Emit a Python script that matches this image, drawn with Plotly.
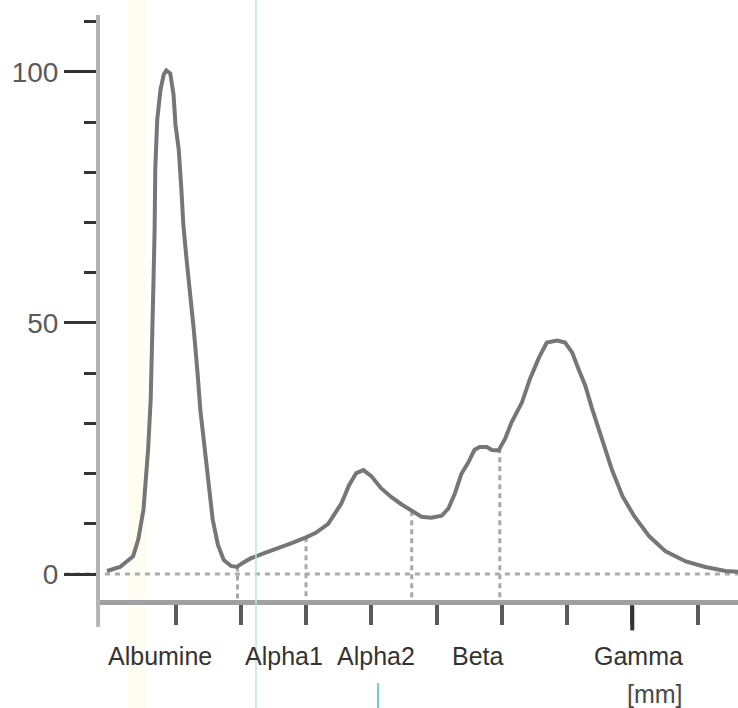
import numpy as np
import plotly.graph_objects as go

# Densitometry scan: migration distance (mm) vs relative intensity (%)
mm = [-0.5, 1.5, 3.5, 4.3, 5.1, 5.5, 5.8, 6.2, 6.5, 6.6, 6.8, 6.9, 7.2, 7.7, 8.2, 8.6,
      9.2, 9.7, 10.0, 10.5, 10.9, 11.2, 11.7, 12.2, 12.8, 13.4, 13.8, 14.5, 15.1, 15.7,
      16.5, 17.4, 18.5, 19.4, 20.3, 21.5, 23.5, 26.2, 27.7, 30.0, 31.5, 33.4, 34.6, 35.4,
      36.6, 37.7, 38.8, 40.0, 41.5, 43.1, 44.6, 46.2, 47.7, 49.2, 50.8, 51.8, 52.8, 53.8,
      54.9, 55.8, 56.6, 57.7, 58.5, 59.5, 60.5, 61.5, 63.1, 64.3, 65.7, 66.9, 68.5, 69.7,
      70.8, 71.8, 72.8, 73.8, 75.4, 76.9, 78.5, 80.3, 82.6, 85.1, 88.2, 91.2, 94.3, 96.5]
pct = [0.6, 1.4, 3.5, 6.9, 12.9, 18.8, 24.8, 34.8, 46.7, 56.7, 68.6, 80.6, 90.5, 96.5, 99.5, 100.3,
       99.7, 95.5, 89.5, 84.5, 76.6, 69.6, 62.6, 56.7, 48.7, 39.7, 32.7, 24.7, 16.8, 10.8,
       5.8, 2.8, 1.6, 1.4, 2.2, 3.1, 4.1, 5.3, 6.1, 7.3, 8.2, 10.0, 12.2, 14.0,
       17.7, 20.1, 20.7, 19.5, 17.1, 15.3, 13.9, 12.5, 11.4, 11.2, 11.6, 13.0, 16.0, 19.9,
       22.3, 24.7, 25.3, 25.3, 24.7, 24.6, 26.9, 30.2, 34.2, 38.8, 43.1, 46.1, 46.5, 46.1,
       44.1, 40.7, 37.5, 33.1, 26.7, 20.7, 15.5, 11.5, 7.5, 4.5, 2.5, 1.4, 0.6, 0.4]

tick_mm = [10, 20, 30, 40, 50, 60, 70, 80, 90]
fraction_bounds = [19.5, 30.0, 46.2, 59.7]
fraction_names = ["Albumine", "Alpha1", "Alpha2", "Beta", "Gamma"]
fraction_label_mm = [7.7, 26.6, 40.8, 56.3, 81.0]
y_ticks = [0, 50, 100]
unit_label = "[mm]"
unit_label_mm = 83.5

bound_tops = np.interp(fraction_bounds, mm, pct)

fig = go.Figure()

# fraction separation lines (dashed, from curve down to axis)
for xb, top in zip(fraction_bounds, bound_tops):
    fig.add_trace(go.Scatter(
        x=[xb, xb], y=[top, -5.2], mode="lines",
        line=dict(color="#a8a8a8", width=3, dash="5px,4px"),
        hoverinfo="skip", showlegend=False, cliponaxis=False))

# curve
fig.add_trace(go.Scatter(
    x=mm, y=pct, mode="lines",
    line=dict(color="#767676", width=4),
    showlegend=False, cliponaxis=False))

shapes = [
    # faint scanner band
    dict(type="rect", xref="paper", yref="paper", x0=0.044, x1=0.071, y0=-0.19, y1=1.03,
         fillcolor="#fefdf2", line=dict(width=0), layer="below"),
    # zero baseline (dashed)
    dict(type="line", xref="paper", yref="y", x0=-0.055, x1=1, y0=0, y1=0,
         line=dict(color="#acacac", width=3, dash="5px,5px"), layer="below"),
    # y-axis extension below x-axis
    dict(type="line", xref="paper", yref="paper", x0=-0.003, x1=-0.003, y0=0, y1=-0.046,
         line=dict(color="#b4b4b4", width=4)),
    # longer Gamma tick
    dict(type="line", xref="x", yref="paper", x0=80, x1=80, y0=-0.01, y1=-0.052,
         line=dict(color="#333333", width=4)),
    # scan artifacts (cyan)
    dict(type="line", xref="paper", yref="paper", x0=0.2445, x1=0.2445, y0=-0.19, y1=1.03,
         line=dict(color="#bfe3e3", width=1.5)),
    dict(type="line", xref="paper", yref="paper", x0=0.4357, x1=0.4357, y0=-0.142, y1=-0.19,
         line=dict(color="#6fd0d8", width=2)),
]

annotations = []
for name, xp in zip(fraction_names, fraction_label_mm):
    annotations.append(dict(x=xp, y=-0.0957, xref="x", yref="paper", text=name, showarrow=False,
                            xanchor="center", yanchor="middle",
                            font=dict(family="Liberation Sans, Arial", size=25, color="#333333")))
annotations.append(dict(x=unit_label_mm, y=-0.1607, xref="x", yref="paper", text=unit_label,
                        showarrow=False, xanchor="center", yanchor="middle",
                        font=dict(family="Liberation Sans, Arial", size=25, color="#4a4a4a")))

fig.update_layout(
    width=738, height=708,
    margin=dict(l=100, r=0, t=15, b=108),
    paper_bgcolor="white", plot_bgcolor="white",
    shapes=shapes, annotations=annotations,
    xaxis=dict(range=[-1.57, 96.2], showgrid=False, zeroline=False,
               showline=True, linecolor="#a0a0a0", linewidth=5,
               tickmode="array", tickvals=tick_mm, showticklabels=False,
               ticks="outside", ticklen=20, tickwidth=4, tickcolor="#5a5a5a"),
    yaxis=dict(range=[-5.18, 111.35], showgrid=False, zeroline=False,
               showline=True, linecolor="#b4b4b4", linewidth=4,
               tickmode="linear", tick0=0, dtick=50,
               ticks="outside", ticklen=32, tickwidth=3, tickcolor="#333333",
               tickfont=dict(family="Liberation Sans, Arial", size=28, color="#5a5a5a"),
               minor=dict(tick0=0, dtick=10, ticks="outside", ticklen=12,
                          tickwidth=3, tickcolor="#333333")),
)

fig.write_html("out.html")
